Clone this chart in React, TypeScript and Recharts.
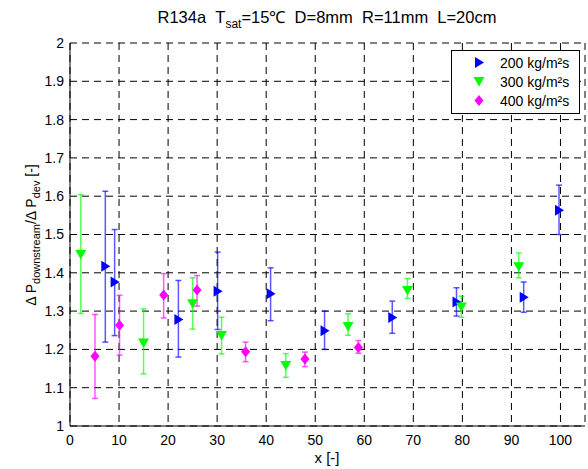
import React from "react";
import {
  ScatterChart,
  Scatter,
  XAxis,
  YAxis,
  CartesianGrid,
  ErrorBar,
  Legend,
} from "recharts";

// 200 kg/m2s
const x200 = [7.2, 9.1, 22.1, 30.1, 40.9, 51.9, 65.7, 78.8, 92.5, 99.7];
const y200 = [1.417, 1.376, 1.278, 1.352, 1.345, 1.249, 1.283, 1.324, 1.336, 1.563];
const lo200 = [1.219, 1.236, 1.18, 1.252, 1.275, 1.2, 1.242, 1.287, 1.297, 1.5];
const hi200 = [1.613, 1.513, 1.38, 1.454, 1.413, 1.3, 1.326, 1.361, 1.376, 1.629];

// 300 kg/m2s
const x300 = [2.2, 15.0, 25.0, 30.9, 44.0, 56.7, 68.8, 79.8, 91.5];
const y300 = [1.448, 1.217, 1.319, 1.236, 1.158, 1.26, 1.354, 1.311, 1.416];
const lo300 = [1.294, 1.136, 1.253, 1.188, 1.127, 1.237, 1.333, 1.284, 1.387];
const hi300 = [1.604, 1.306, 1.387, 1.284, 1.189, 1.293, 1.385, 1.339, 1.452];

// 400 kg/m2s
const x400 = [5.1, 10.1, 19.1, 25.9, 35.8, 47.9, 58.8];
const y400 = [1.182, 1.263, 1.342, 1.355, 1.194, 1.175, 1.205];
const lo400 = [1.072, 1.185, 1.282, 1.313, 1.168, 1.155, 1.19];
const hi400 = [1.291, 1.341, 1.398, 1.393, 1.219, 1.193, 1.223];

const xTicks = [0, 10, 20, 30, 40, 50, 60, 70, 80, 90, 100];
const yTicks = [1, 1.1, 1.2, 1.3, 1.4, 1.5, 1.6, 1.7, 1.8, 1.9, 2];
const seriesNames = ["200 kg/m²s", "300 kg/m²s", "400 kg/m²s"];
const COLORS = ["#0000ff", "#00ff00", "#ff00ff"];

const FONT = "Arial, 'Liberation Sans', sans-serif";

function build(xs: number[], ys: number[], lo: number[], hi: number[]) {
  return xs.map((x, i) => ({ x, y: ys[i], err: [ys[i] - lo[i], hi[i] - ys[i]] }));
}

const data200 = build(x200, y200, lo200, hi200);
const data300 = build(x300, y300, lo300, hi300);
const data400 = build(x400, y400, lo400, hi400);

function markerPath(kind: number, cx: number, cy: number) {
  if (kind === 0) return `M${cx - 4},${cy - 5.5}L${cx + 5},${cy}L${cx - 4},${cy + 5.5}Z`;
  if (kind === 1) return `M${cx - 5.5},${cy - 4.5}L${cx + 5.5},${cy - 4.5}L${cx},${cy + 5}Z`;
  return `M${cx},${cy - 5.5}L${cx + 4.5},${cy}L${cx},${cy + 5.5}L${cx - 4.5},${cy}Z`;
}

const makeShape = (kind: number) => (props: any) => {
  const { cx, cy } = props;
  if (cx == null || cy == null) return <g />;
  return <path d={markerPath(kind, cx, cy)} fill={COLORS[kind]} stroke="none" />;
};

const renderLegend = () => (
  <div
    style={{
      border: "1px solid #000",
      background: "#fff",
      width: 127,
      height: 60,
      boxSizing: "content-box",
      fontFamily: FONT,
      fontSize: 14,
      paddingTop: 2,
    }}
  >
    {seriesNames.map((name, i) => (
      <div key={name} style={{ display: "flex", alignItems: "center", height: 19 }}>
        <svg width={48} height={19}>
          <path d={markerPath(i, 27, 9.5)} fill={COLORS[i]} />
        </svg>
        <span>{name}</span>
      </div>
    ))}
  </div>
);

export default function App() {
  return (
    <div style={{ position: "absolute", left: 0, top: 0, background: "#fff" }}>
      <ScatterChart
        width={588}
        height={469}
        margin={{ top: 43, right: 3, bottom: 0, left: 0 }}
        style={{ fontFamily: FONT }}
      >
        <CartesianGrid stroke="#000" strokeDasharray="7 5" />
        <XAxis
          type="number"
          dataKey="x"
          domain={[0, 105]}
          ticks={xTicks}
          height={43}
          tickLine={false}
          tickSize={0}
          tickMargin={9}
          axisLine={{ stroke: "#000" }}
          tick={{ fill: "#000", fontSize: 14 }}
        />
        <XAxis
          xAxisId="top"
          orientation="top"
          type="number"
          domain={[0, 105]}
          ticks={xTicks}
          height={0}
          mirror
          tickSize={5}
          tickFormatter={() => ""}
          axisLine={{ stroke: "#000" }}
          tickLine={{ stroke: "#000" }}
        />
        <YAxis
          type="number"
          dataKey="y"
          domain={[1, 2]}
          ticks={yTicks}
          width={70}
          tickLine={false}
          tickSize={0}
          tickMargin={6}
          tickFormatter={(v: number) => String(+v.toFixed(1))}
          axisLine={{ stroke: "#000" }}
          tick={{ fill: "#000", fontSize: 14 }}
        />
        <YAxis
          yAxisId="right"
          orientation="right"
          type="number"
          domain={[1, 2]}
          ticks={yTicks}
          width={0}
          mirror
          tickSize={5}
          tickFormatter={() => ""}
          axisLine={{ stroke: "#000" }}
          tickLine={{ stroke: "#000" }}
        />
        <Legend
          layout="vertical"
          align="center"
          verticalAlign="middle"
          wrapperStyle={{ left: 451, top: 50, width: 129 }}
          content={renderLegend}
        />
        <Scatter name={seriesNames[0]} data={data200} shape={makeShape(0)} isAnimationActive={false}>
          <ErrorBar dataKey="err" direction="y" width={3} stroke={COLORS[0]} strokeOpacity={0.65} strokeWidth={1.5} />
        </Scatter>
        <Scatter name={seriesNames[1]} data={data300} shape={makeShape(1)} isAnimationActive={false}>
          <ErrorBar dataKey="err" direction="y" width={3} stroke={COLORS[1]} strokeOpacity={0.65} strokeWidth={1.5} />
        </Scatter>
        <Scatter name={seriesNames[2]} data={data400} shape={makeShape(2)} isAnimationActive={false}>
          <ErrorBar dataKey="err" direction="y" width={3} stroke={COLORS[2]} strokeOpacity={0.65} strokeWidth={1.5} />
        </Scatter>
        <text x={327} y={23} textAnchor="middle" fontSize={16.5} fontFamily={FONT} fill="#000">
          R134a{"\u00a0\u00a0"}T
          <tspan fontSize={12} dy={5}>sat</tspan>
          <tspan dy={-5}>=15℃{"\u00a0\u00a0"}D=8mm{"\u00a0\u00a0"}R=11mm{"\u00a0\u00a0"}L=20cm</tspan>
        </text>
        <text x={327} y={463} textAnchor="middle" fontSize={15} fontFamily={FONT} fill="#000">
          x [-]
        </text>
        <text
          transform="translate(36,235) rotate(-90)"
          textAnchor="middle"
          fontSize={14}
          fontFamily={FONT}
          fill="#000"
        >
          Δ P
          <tspan fontSize={11} dy={4}>downstream</tspan>
          <tspan dy={-4}>/Δ P</tspan>
          <tspan fontSize={11} dy={4}>dev</tspan>
          <tspan dy={-4}> [-]</tspan>
        </text>
      </ScatterChart>
    </div>
  );
}
